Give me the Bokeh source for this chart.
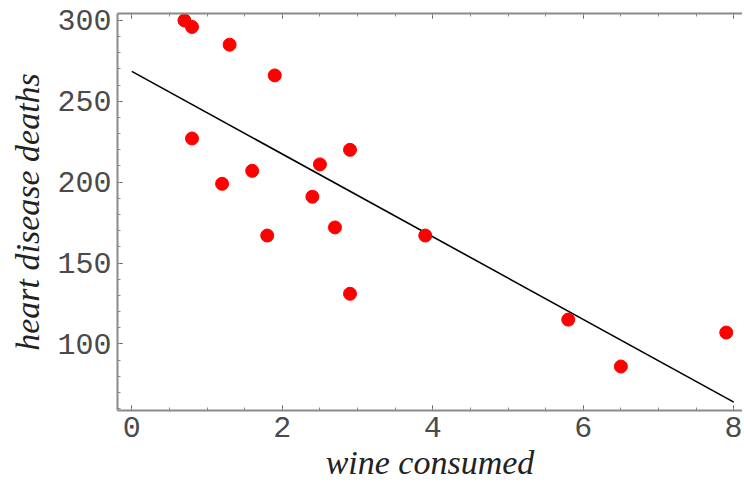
from bokeh.plotting import figure
from bokeh.models import LinearAxis, SingleIntervalTicker, Range1d, ColumnDataSource, CustomJSTickFormatter
from bokeh.embed import file_html
from bokeh.resources import INLINE

# data
wine = [0.7, 0.8, 1.3, 1.9, 0.8, 1.2, 1.6, 1.8, 2.4, 2.5, 2.7, 2.9, 2.9, 3.9, 5.8, 6.5, 7.9]
deaths = [300, 296, 285, 266, 227, 199, 207, 167, 191, 211, 172, 220, 131, 167, 115, 86, 107]
fit_x = [0, 8]
fit_y = [268.5, 64]

p = figure(width=742, height=483, output_backend="svg", toolbar_location=None,
           x_range=Range1d(-0.19, 8.116), y_range=Range1d(58.8, 304.3),
           x_axis_type=None, y_axis_type=None,
           min_border_left=117, min_border_right=0, min_border_top=13, min_border_bottom=71)
p.outline_line_color = None
p.grid.visible = False
p.background_fill_color = "white"
p.border_fill_color = "white"

AX = "#8a8a8a"

def style(ax):
    ax.axis_line_color = AX
    ax.axis_line_width = 2
    ax.major_tick_line_color = "#555555"
    ax.minor_tick_line_color = AX
    ax.major_tick_in = 5
    ax.major_tick_out = 0
    ax.minor_tick_in = 3
    ax.minor_tick_out = 0
    ax.major_label_text_font = "Liberation Mono"
    ax.major_label_text_font_size = "30px"
    ax.major_label_text_color = "#4a4a4a"
    ax.major_label_standoff = 6
    ax.axis_label_text_font = "Liberation Serif"
    ax.axis_label_text_font_style = "italic"
    ax.axis_label_text_font_size = "34px"
    ax.axis_label_text_color = "#222222"

xb = LinearAxis(ticker=SingleIntervalTicker(interval=2, num_minor_ticks=4), axis_label="wine consumed")
style(xb)
xb.axis_label_standoff = 4
p.add_layout(xb, "below")

yl = LinearAxis(ticker=SingleIntervalTicker(interval=50, num_minor_ticks=5), axis_label="heart disease deaths")
style(yl)
yl.axis_label_standoff = 8
p.add_layout(yl, "left")

xt = LinearAxis(ticker=SingleIntervalTicker(interval=2, num_minor_ticks=4),
                formatter=CustomJSTickFormatter(code="return '';"))
style(xt)
xt.major_label_standoff = 0
p.add_layout(xt, "above")

p.line(fit_x, fit_y, line_color="black", line_width=1.6)
src = ColumnDataSource(dict(x=wine, y=deaths))
p.scatter("x", "y", source=src, size=13, fill_color="#ff0000", line_color="#ff0000")

open("out.html", "w").write(file_html(p, INLINE))
